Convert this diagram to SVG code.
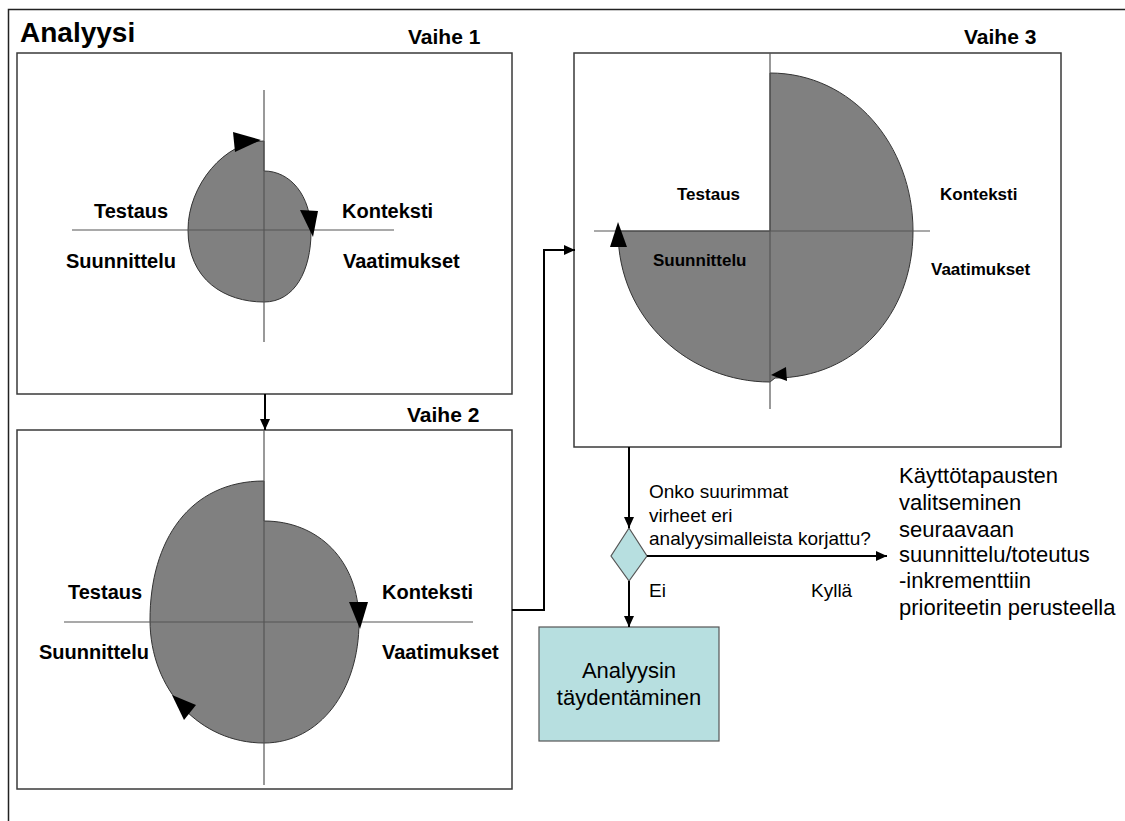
<svg xmlns="http://www.w3.org/2000/svg" width="1125" height="821" viewBox="0 0 1125 821">
  <style>
    .frame { fill: none; stroke: #222; stroke-width: 1.5; }
    .panel { fill: #ffffff; stroke: #3a3a3a; stroke-width: 1.5; }
    .axis { stroke: #555; stroke-width: 1.2; fill: none; }
    .blob { fill: #808080; stroke: #333; stroke-width: 1; }
    .tip { fill: #000; }
    .conn { fill: none; stroke: #000; stroke-width: 2; }
    .teal { fill: #b7dfe0; stroke: #555; stroke-width: 1.2; }
    text { font-family: "Liberation Sans", Arial, sans-serif; fill: #000; }
    .title { font-size: 28px; font-weight: bold; }
    .phase { font-size: 21px; font-weight: bold; }
    .lbl { font-size: 20px; font-weight: bold; }
    .lbl3 { font-size: 17px; font-weight: bold; }
    .note { font-size: 19px; }
    .big { font-size: 22px; }
  </style>
  <defs>
    <marker id="arrow" markerUnits="userSpaceOnUse" markerWidth="12" markerHeight="12" refX="11" refY="6" orient="auto">
      <path d="M0,1 L11,6 L0,11 Z" fill="#000"/>
    </marker>
  </defs>

  <!-- outer frame -->
  <path class="frame" d="M8.5,821 V9.5 H1125"/>
  <text class="title" x="20" y="42">Analyysi</text>

  <!-- Vaihe 1 -->
  <g id="vaihe1">
    <text class="phase" x="408" y="44">Vaihe 1</text>
    <rect class="panel" x="17" y="53" width="495" height="341"/>
    <path class="blob" d="M264,141 C225,141 188,185 188,230 C188,280 225,302 264,302 C295,302 311,270 311,232 C311,195 290,171 264,171 Z"/>
    <line class="axis" x1="264" y1="90" x2="264" y2="342"/>
    <line class="axis" x1="72" y1="230" x2="394" y2="230"/>
    <polygon class="tip" points="233,132 261,140 235,152"/>
    <polygon class="tip" points="300,210 318,211 313,237"/>
    <text class="lbl" x="94" y="218">Testaus</text>
    <text class="lbl" x="342" y="218">Konteksti</text>
    <text class="lbl" x="66" y="268">Suunnittelu</text>
    <text class="lbl" x="343" y="268">Vaatimukset</text>
  </g>

  <!-- Vaihe 2 -->
  <g id="vaihe2">
    <text class="phase" x="407" y="422">Vaihe 2</text>
    <rect class="panel" x="17" y="430" width="495" height="359"/>
    <path class="blob" d="M264,481 C190,481 150,540 150,620 C150,690 200,743 264,743 C320,743 359,690 359,622 C359,560 318,521 264,521 Z"/>
    <line class="axis" x1="264" y1="430" x2="264" y2="785"/>
    <line class="axis" x1="64" y1="622" x2="473" y2="622"/>
    <polygon class="tip" points="349,602 368,602 360,629"/>
    <polygon class="tip" points="172,695 196,705 184,720"/>
    <text class="lbl" x="68" y="599">Testaus</text>
    <text class="lbl" x="382" y="599">Konteksti</text>
    <text class="lbl" x="39" y="659">Suunnittelu</text>
    <text class="lbl" x="382" y="659">Vaatimukset</text>
  </g>

  <!-- Vaihe 3 -->
  <g id="vaihe3">
    <text class="phase" x="964" y="44">Vaihe 3</text>
    <rect class="panel" x="574" y="53" width="487" height="394"/>
    <path class="blob" d="M770,73 C852,73 913,145 913,231 C913,315 855,378 775,378 L770,382 C690,382 618,320 618,231 L770,231 Z"/>
    <line class="axis" x1="770" y1="53" x2="770" y2="409"/>
    <line class="axis" x1="594" y1="231" x2="930" y2="231"/>
    <polygon class="tip" points="618,222 627,247 610,247"/>
    <polygon class="tip" points="771,375 786,367 787,381"/>
    <text class="lbl3" x="677" y="200">Testaus</text>
    <text class="lbl3" x="940" y="200">Konteksti</text>
    <text class="lbl3" x="653" y="266">Suunnittelu</text>
    <text class="lbl3" x="931" y="275">Vaatimukset</text>
  </g>

  <!-- decision -->
  <g id="paatos">
    <polygon class="teal" points="629,528 647,556 629,581 611,556"/>
    <text class="note" x="649" y="498">Onko suurimmat</text>
    <text class="note" x="649" y="522">virheet eri</text>
    <text class="note" x="649" y="545">analyysimalleista korjattu?</text>
    <text class="note" x="649" y="597">Ei</text>
    <text class="note" x="811" y="597">Kyllä</text>
  </g>

  <!-- completion step -->
  <g id="taydentaminen">
    <rect class="teal" x="539" y="627" width="180" height="114"/>
    <text class="big" x="629" y="678" text-anchor="middle">Analyysin</text>
    <text class="big" x="629" y="705" text-anchor="middle">täydentäminen</text>
  </g>

  <!-- next step -->
  <g id="kayttotapaukset">
    <text class="big" x="899" y="483">Käyttötapausten</text>
    <text class="big" x="899" y="510">valitseminen</text>
    <text class="big" x="899" y="537">seuraavaan</text>
    <text class="big" x="899" y="562">suunnittelu/toteutus</text>
    <text class="big" x="899" y="588">-inkrementtiin</text>
    <text class="big" x="899" y="615">prioriteetin perusteella</text>
  </g>

  <!-- connectors -->
  <g id="connectors">
    <path class="conn" d="M265,394 V430" marker-end="url(#arrow)" stroke-width="1.5"/>
    <path class="conn" d="M512,610 H544 V250 H575" marker-end="url(#arrow)"/>
    <path class="conn" d="M629,447 V528" marker-end="url(#arrow)" stroke-width="1.5"/>
    <path class="conn" d="M647,556 H887" marker-end="url(#arrow)"/>
    <path class="conn" d="M629,581 V627" marker-end="url(#arrow)" stroke-width="1.5"/>
  </g>
</svg>
